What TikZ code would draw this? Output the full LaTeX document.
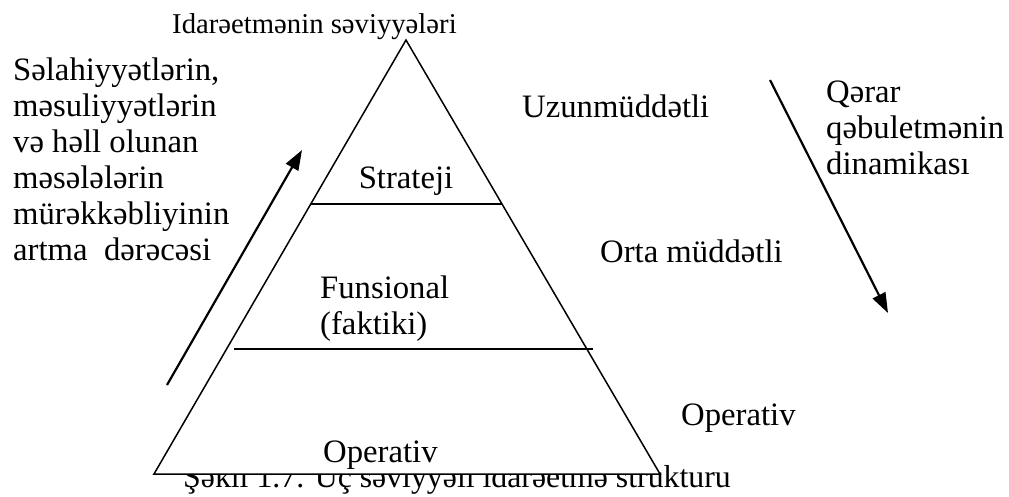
\documentclass[tikz,border=0pt]{standalone}
\usepackage{fontspec}
\setmainfont{Liberation Serif}
\usetikzlibrary{arrows.meta}
\begin{document}
\begin{tikzpicture}[x=1pt,y=-1pt,
  txt/.style={anchor=base west,inner sep=0pt,font=\fontsize{32.7}{36}\selectfont},
  ctxt/.style={anchor=base,inner sep=0pt,font=\fontsize{32.7}{36}\selectfont},
  pyr/.style={line width=1.5pt,fill=white,line join=miter},
  level/.style={line width=1.5pt},
  trend/.style={line width=2.2pt,-{Triangle[length=20pt,width=14pt]}}]
\useasboundingbox (0,0) rectangle (1009,496);
% caption (partly hidden behind the pyramid)
\node[anchor=base west,inner sep=0pt,font=\fontsize{31.8}{34}\selectfont] (cap) at (183,487) {Şəkil 1.7. Üç səviyyəli idarəetmə strukturu};
% pyramid
\coordinate (apex) at (406,40);
\coordinate (bl) at (154,474);
\coordinate (br) at (660,474);
\draw[pyr] (apex) -- (bl) -- (br) -- cycle;
% level separators
\coordinate (s1) at (311,204);
\coordinate (s2) at (502,204);
\coordinate (f1) at (234,349);
\coordinate (f2) at (593,349);
\draw[level] (s1) -- (s2);
\draw[level] (f1) -- (f2);
% title
\node[anchor=base west,inner sep=0pt,font=\fontsize{28.7}{31}\selectfont] (title) at (172,33) {Idarəetmənin səviyyələri};
% levels inside
\node[ctxt] (str) at (406,188) {Strateji};
\node[txt] (fun) at (320,298) {Funsional};
\node[txt] (fak) at (320,334) {(faktiki)};
\node[txt] (op) at (323,462) {Operativ};
% horizons
\node[txt] (uzun) at (522,117) {Uzunmüddətli};
\node[txt] (orta) at (600,262) {Orta müddətli};
\node[txt] (opr) at (681,425) {Operativ};
% left description
\node[txt,align=left,anchor=north west] (desc) at (13,57.5) {Səlahiyyətlərin,\\məsuliyyətlərin\\və həll olunan\\məsələlərin\\mürəkkəbliyinin\\artma\ \ dərəcəsi};
% right description
\node[txt,align=left,anchor=north west] (dyn) at (826,80.5) {Qərar\\qəbuletmənin\\dinamikası};
% trend arrows
\coordinate (upA) at (167,385);
\coordinate (upB) at (302,150);
\coordinate (dnA) at (770,80);
\coordinate (dnB) at (888,313);
\draw[trend] (upA) -- (upB);
\draw[trend] (dnA) -- (dnB);
\end{tikzpicture}
\end{document}
